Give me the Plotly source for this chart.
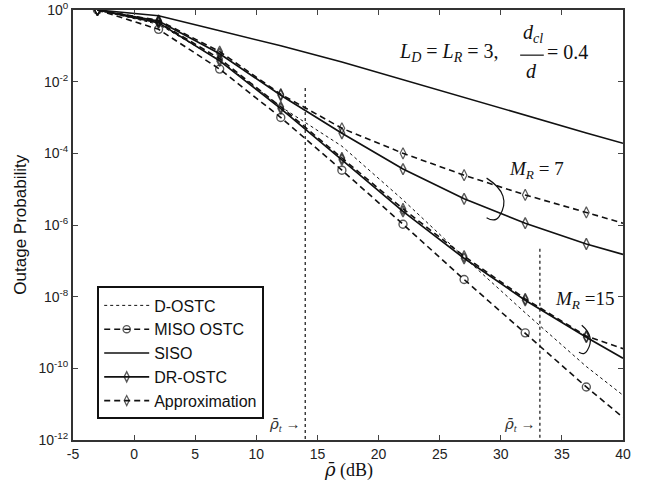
import plotly.graph_objects as go

# ---- data (x in dB, y as outage probability) ----
snr = [-3, 2, 7, 12, 17, 22, 27, 32, 37, 40]

siso_exp = [0, 0.16, 0.58, 1.0, 1.45, 1.95, 2.45, 2.94, 3.43, 3.72]
d_ostc_exp = [0, 0.40, 1.40, 2.70, 3.80, 5.30, 6.90, 8.45, 9.95, 10.75]
miso_exp = [0, 0.54, 1.65, 3.0, 4.47, 5.98, 7.52, 9.01, 10.52, 11.37]
dr15_exp = [0, 0.36, 1.42, 2.75, 4.18, 5.62, 6.93, 8.10, 9.13, 9.72]
ap15_exp = [0, 0.34, 1.36, 2.70, 4.13, 5.55, 6.87, 8.06, 9.10, 9.45]
dr7_exp = [0, 0.31, 1.22, 2.38, 3.44, 4.44, 5.27, 5.95, 6.53, 6.82]
ap7_exp = [0, 0.29, 1.16, 2.35, 3.30, 4.00, 4.61, 5.16, 5.65, 5.95]

rho_t = [14, 33.2]
rho_t_top = [10 ** -2.18, 10 ** -6.66]

y_tick_exp = [0, -2, -4, -6, -8, -10, -12]
x_ticks = [-5, 0, 5, 10, 15, 20, 25, 30, 35, 40]


def p(e):
    return [10 ** (-v) for v in e]


K = "#111111"
n = len(snr)

fig = go.Figure()
fig.add_trace(go.Scatter(x=snr, y=p(d_ostc_exp), mode="lines", name="D-OSTC",
                         line=dict(color=K, width=1, dash="3px,3px")))
fig.add_trace(go.Scatter(x=snr, y=p(miso_exp), mode="lines+markers", name="MISO OSTC",
                         line=dict(color=K, width=1.6, dash="6px,4px"),
                         marker=dict(symbol="circle-open", size=[8] * (n - 1) + [0],
                                     color=K, line=dict(width=1.4))))
fig.add_trace(go.Scatter(x=snr, y=p(siso_exp), mode="lines", name="SISO",
                         line=dict(color=K, width=1.6)))
for i, e in enumerate([dr7_exp, dr15_exp]):
    fig.add_trace(go.Scatter(x=snr, y=p(e), mode="lines+markers", name="DR-OSTC",
                             legendgroup="dr", showlegend=(i == 0),
                             line=dict(color=K, width=1.7),
                             marker=dict(symbol="diamond-tall-open", size=[8] * (n - 1) + [0],
                                         color=K, line=dict(width=1.4))))
for i, e in enumerate([ap7_exp, ap15_exp]):
    fig.add_trace(go.Scatter(x=snr, y=p(e), mode="lines+markers", name="Approximation",
                             legendgroup="ap", showlegend=(i == 0),
                             line=dict(color=K, width=1.6, dash="6px,4px"),
                             marker=dict(symbol="diamond-tall-open", size=[8] * (n - 1) + [0],
                                         color=K, line=dict(width=1.2))))
for xv, yt in zip(rho_t, rho_t_top):
    fig.add_trace(go.Scatter(x=[xv, xv], y=[yt, 1e-12], mode="lines", showlegend=False,
                             line=dict(color=K, width=1.2, dash="dot"), hoverinfo="skip"))

serif = "Liberation Serif, Times New Roman, serif"
sans = "Liberation Sans, Arial, sans-serif"
RHO = '<i><span style="font-family:DejaVu Serif">ρ̄</span></i>'


def A(x, y, text, font, xref="paper", **kw):
    d = dict(x=x, y=y, xref=xref, yref="paper", showarrow=False, text=text, font=font,
             xanchor="center", yanchor="middle")
    d.update(kw)
    return d


f20 = dict(family=serif, size=20, color=K)
f19 = dict(family=serif, size=19, color=K)
ann = [
    A(0.684, 0.902, "<i>L</i><sub><i>D</i></sub> = <i>L</i><sub><i>R</i></sub> = 3,", f20),
    A(0.836, 0.946, "<i>d</i><sub><i>cl</i></sub>", f20),
    A(0.834, 0.858, "<i>d</i>", f20),
    A(0.899, 0.902, "= 0.4", f20),
    A(0.842, 0.628, "<i>M</i><sub><i>R</i></sub> = 7", f19),
    A(0.930, 0.325, "<i>M</i><sub><i>R</i></sub> =15", f19),
    A(0.5, -0.07, RHO + " (dB)", dict(family=serif, size=18, color=K)),
    A(-0.097, 0.5, "Outage Probability", dict(family=sans, size=17, color=K), textangle=-90),
]
for xv in rho_t:
    ann.append(A(xv, 0.035, RHO + "<sub><i>t</i></sub> →",
                 dict(family=serif, size=15, color="#333"), xref="x",
                 xanchor="right", xshift=-2))

shapes = [
    dict(type="line", xref="paper", yref="paper", x0=0.813, x1=0.856, y0=0.895, y1=0.895,
         line=dict(color=K, width=1.2)),
    dict(type="path", xref="paper", yref="paper",
         path="M 0.752,0.609 Q 0.800,0.570 0.775,0.520 Q 0.767,0.505 0.752,0.517",
         line=dict(color=K, width=1.2)),
    dict(type="path", xref="paper", yref="paper",
         path="M 0.925,0.267 Q 0.950,0.240 0.935,0.208 Q 0.930,0.196 0.920,0.204",
         line=dict(color=K, width=1.2)),
]

fig.update_layout(
    width=649, height=489,
    margin=dict(l=73, r=26, t=10, b=49),
    paper_bgcolor="white", plot_bgcolor="white",
    font=dict(family=sans, size=14, color="#222"),
    showlegend=True,
    legend=dict(x=0.044, y=0.357, xanchor="left", yanchor="top", itemwidth=45,
                bordercolor=K, borderwidth=2, bgcolor="white",
                font=dict(family=sans, size=16, color=K), tracegroupgap=0),
    annotations=ann, shapes=shapes,
    xaxis=dict(range=[-5, 40], tickvals=x_ticks, ticktext=[str(v) for v in x_ticks],
               ticks="inside", ticklen=5, automargin=False,
               showline=True, linecolor="#333", linewidth=2, mirror="ticks",
               showgrid=False, zeroline=False, tickfont=dict(size=14, family=sans)),
    yaxis=dict(type="log", range=[-12, 0], tickvals=[10 ** e for e in y_tick_exp],
               ticktext=["10<sup>%d</sup>" % e for e in y_tick_exp], automargin=False,
               ticks="inside", ticklen=5, showline=True, linecolor="#333", linewidth=2,
               mirror="ticks", showgrid=False, zeroline=False,
               tickfont=dict(size=14, family=sans)),
)

fig.write_html("out.html", config={"displayModeBar": False},
               post_script="document.body.style.margin='0px';")
